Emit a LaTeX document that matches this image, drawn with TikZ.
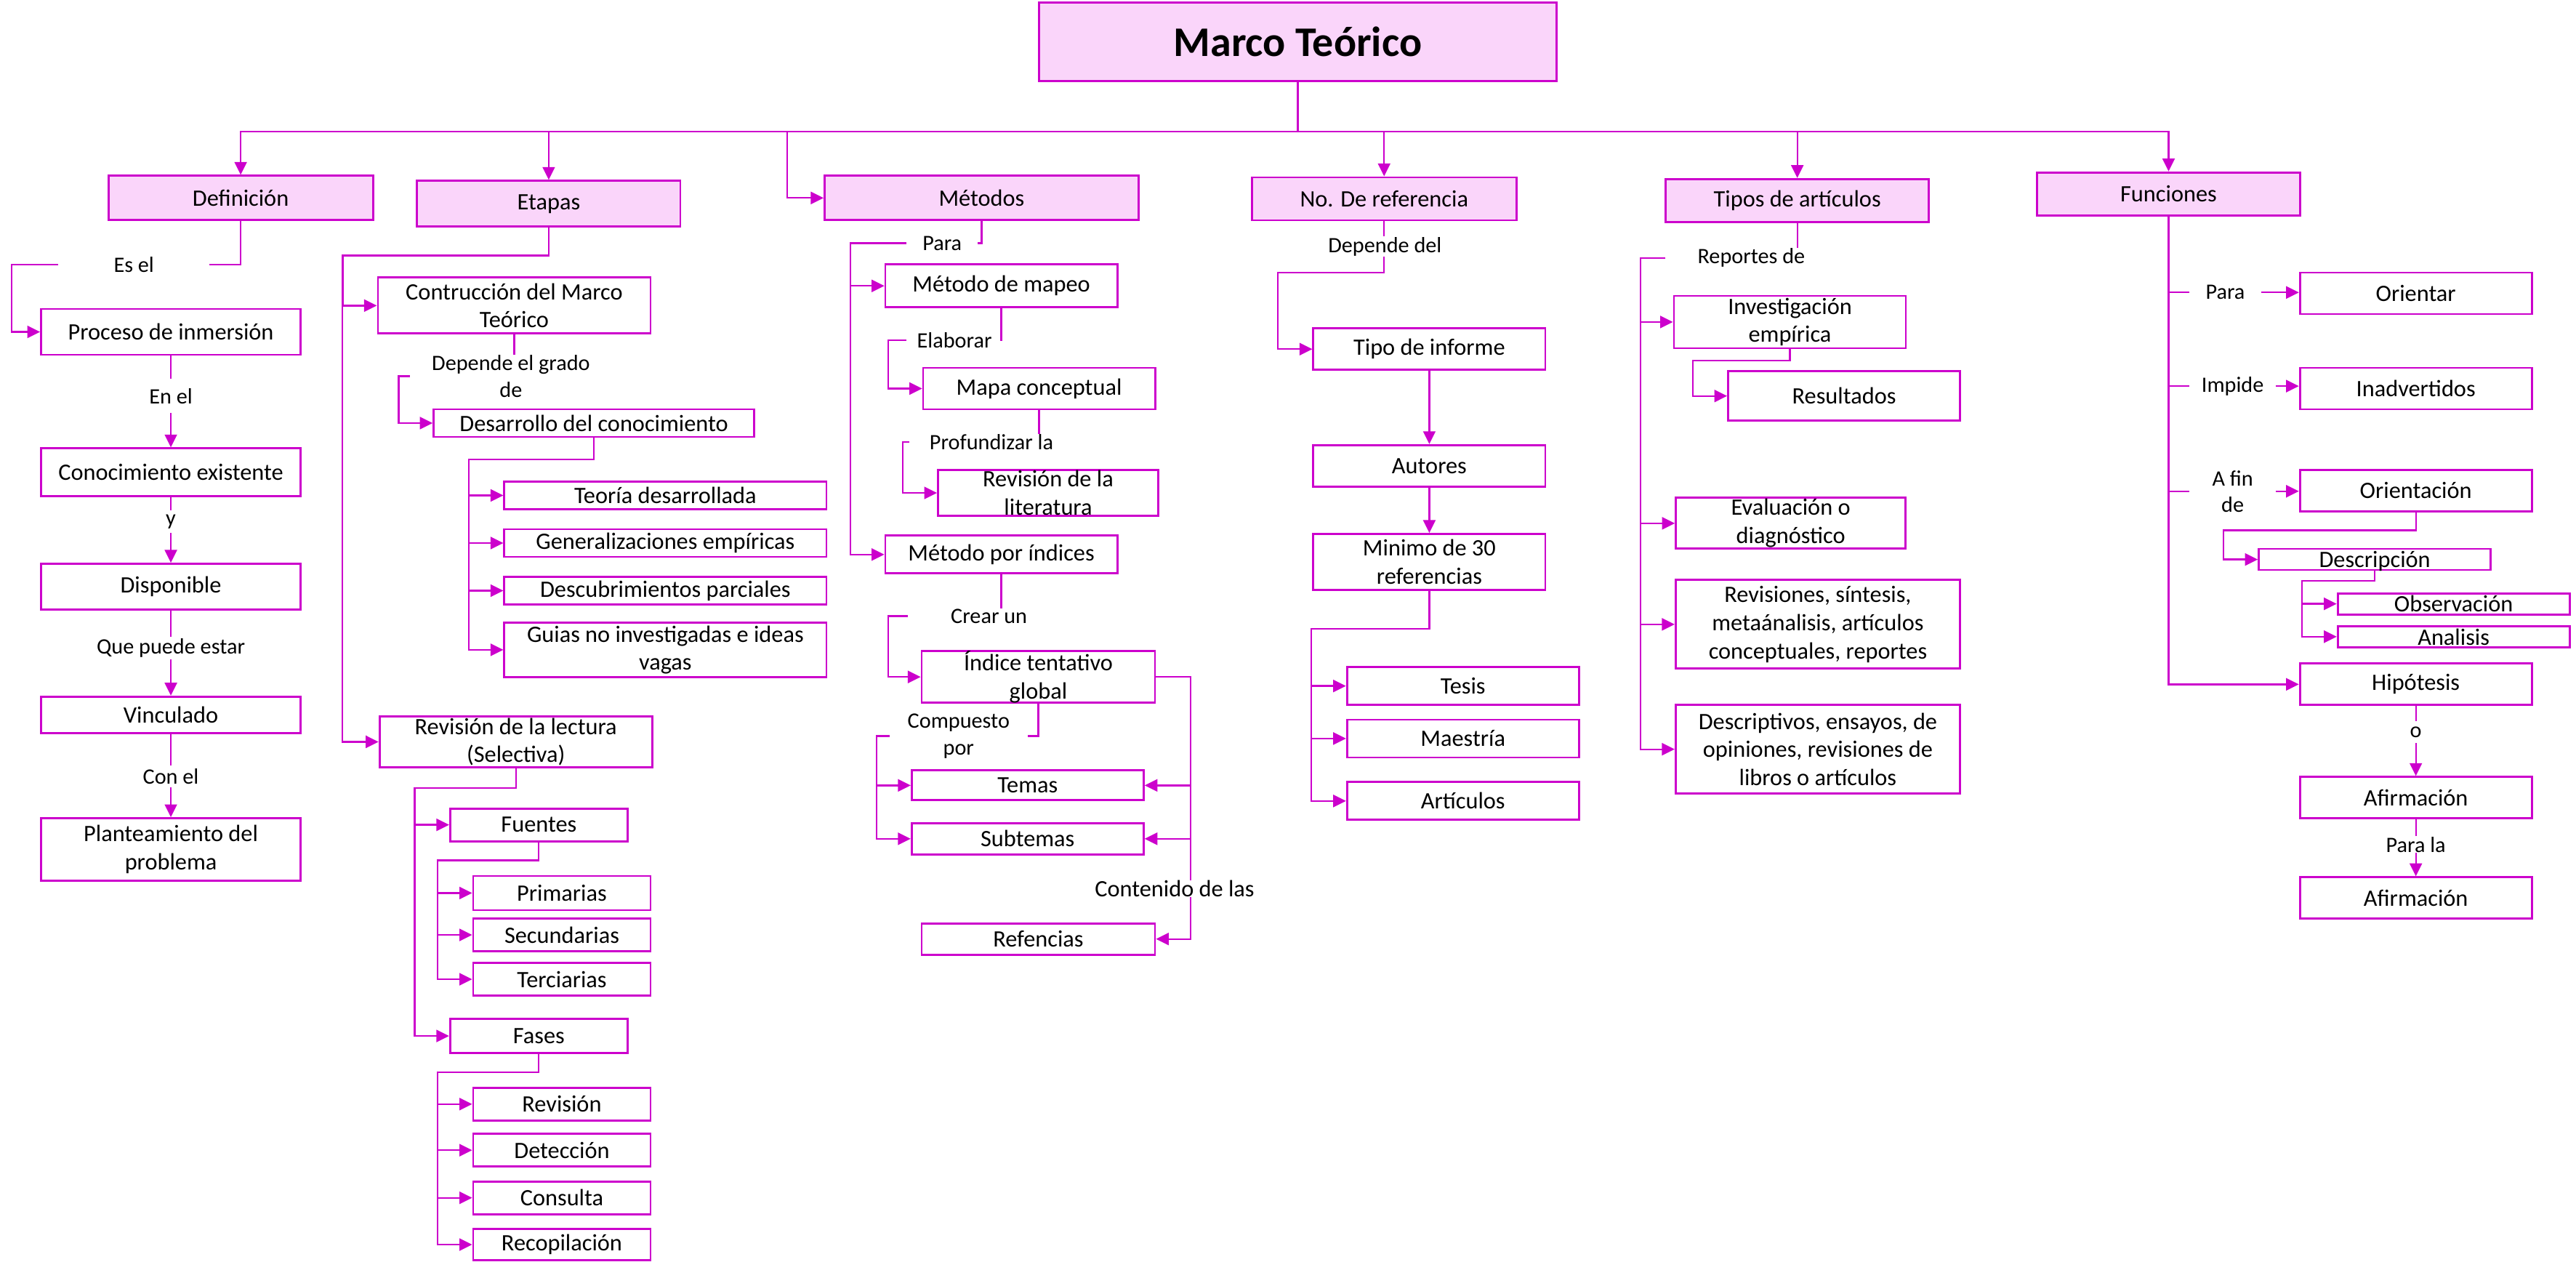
\documentclass[tikz,border=0pt]{standalone}
\usepackage{fontspec}
\setmainfont{Carlito}
\usepackage{tikz}
\usepackage{xcolor}
\usetikzlibrary{arrows.meta}
\definecolor{magline}{RGB}{204,0,204}
\definecolor{pinkfill}{RGB}{250,213,250}
\newcommand{\boxfont}{\fontsize{9.2}{11}\selectfont}
\newcommand{\lblfont}{\fontsize{8.6}{10.3}\selectfont}
\begin{document}
\begin{tikzpicture}[x=0.226mm,y=-0.226mm,
  headbox/.style={draw=magline,line width=0.8pt,fill=pinkfill,inner sep=0pt,align=center,font=\boxfont},
  leafbox/.style={draw=magline,line width=0.8pt,fill=white,inner sep=0pt,align=center,font=\boxfont},
  flatbox/.style={text height=6.4pt,text depth=0pt},
  linklabel/.style={inner sep=0pt,align=center,font=\lblfont},
  wire/.style={draw=magline,line width=0.65pt},
  wirearrow/.style={wire,-{Triangle[length=5pt,width=4.8pt]}}]
\useasboundingbox (0,0) rectangle (1568,768);
\node[headbox,minimum width=71.2mm,minimum height=10.8mm,font=\fontsize{16.5}{20}\selectfont\bfseries] (marco) at (790,25.5) {Marco Teórico};
\node[headbox,minimum width=36.4mm,minimum height=6.1mm] (defin) at (146.5,120.5) {Definición};
\node[headbox,minimum width=36.2mm,minimum height=6.3mm] (etapas) at (334,124) {Etapas};
\node[headbox,minimum width=43.2mm,minimum height=6.1mm] (metodos) at (597.5,120.5) {Métodos};
\node[headbox,minimum width=36.4mm,minimum height=5.9mm] (noref) at (842.5,121) {No. De referencia};
\node[headbox,minimum width=36.2mm,minimum height=5.9mm] (tipos) at (1094,122) {Tipos de artículos};
\node[headbox,minimum width=36.2mm,minimum height=5.9mm] (funciones) at (1320,118) {Funciones};
\draw[wirearrow] (marco.south) -- ++(0,30) -| (defin.north);
\draw[wirearrow] (marco.south) -- ++(0,30) -| (etapas.north);
\draw[wirearrow] (marco.south) -- ++(0,30) -| ([xshift=-5mm]metodos.west) -- (metodos.west);
\draw[wirearrow] (marco.south) -- ++(0,30) -| (noref.north);
\draw[wirearrow] (marco.south) -- ++(0,30) -| (tipos.north);
\draw[wirearrow] (marco.south) -- ++(0,30) -| (funciones.north);
\node[linklabel,minimum width=20.6mm] (esel) at (81.5,161) {Es el};
\node[leafbox,minimum width=35.7mm,minimum height=6.3mm] (proceso) at (104,202) {Proceso de inmersión};
\node[linklabel,minimum height=4.5mm] (enel) at (104,241) {En el};
\node[leafbox,minimum width=35.7mm,minimum height=6.6mm] (conoc) at (104,287.5) {Conocimiento existente};
\node[linklabel,minimum height=2.9mm] (ylbl) at (104,317.5) {y};
\node[leafbox,minimum width=35.7mm,minimum height=6.3mm] (dispon) at (104,357) {Disponible};
\node[linklabel,minimum height=2.9mm] (quepuede) at (104,394.5) {Que puede estar};
\node[leafbox,minimum width=35.7mm,minimum height=5mm] (vincul) at (104,435) {Vinculado};
\node[linklabel,minimum height=2.9mm] (conel) at (104,472.5) {Con el};
\node[leafbox,minimum width=35.7mm,minimum height=8.6mm] (plantea) at (104,517) {Planteamiento del\\problema};
\draw[wire] (defin.south) |- (esel.east);
\draw[wirearrow] (esel.west) -- ++(-28.5,0) |- (proceso.west);
\draw[wire] (proceso.south) -- (enel.north);
\draw[wirearrow] (enel.south) -- (conoc.north);
\draw[wire] (conoc.south) -- (ylbl.north);
\draw[wirearrow] (ylbl.south) -- (dispon.north);
\draw[wire] (dispon.south) -- (quepuede.north);
\draw[wirearrow] (quepuede.south) -- (vincul.north);
\draw[wire] (vincul.south) -- (conel.north);
\draw[wirearrow] (conel.south) -- (plantea.north);
\node[leafbox,minimum width=37.5mm,minimum height=7.7mm] (contruc) at (313,186) {Contrucción del Marco\\Teórico};
\node[linklabel,minimum width=27.6mm] (depende) at (311,229) {Depende el grado\\de};
\node[leafbox,minimum width=44.1mm,minimum height=3.8mm] (desarr) at (361.5,257.5) {Desarrollo del conocimiento};
\node[leafbox,minimum width=44.3mm,minimum height=3.8mm] (teoria) at (405,301.5) {Teoría desarrollada};
\node[leafbox,minimum width=44.3mm,minimum height=3.8mm] (general) at (405,330.5) {Generalizaciones empíricas};
\node[leafbox,minimum width=44.3mm,minimum height=3.8mm] (descub) at (405,359.5) {Descubrimientos parciales};
\node[leafbox,minimum width=44.3mm,minimum height=7.5mm] (guias) at (405,395.5) {Guias no investigadas e ideas\\vagas};
\node[leafbox,minimum width=37.5mm,minimum height=7mm] (revlect) at (314,451.5) {Revisión de la lectura\\(Selectiva)};
\node[leafbox,minimum width=24.4mm,minimum height=4.5mm] (fuentes) at (328,502) {Fuentes};
\node[leafbox,minimum width=24.4mm,minimum height=4.7mm] (primarias) at (342,543.5) {Primarias};
\node[leafbox,minimum width=24.4mm,minimum height=4.5mm] (secund) at (342,569) {Secundarias};
\node[leafbox,minimum width=24.4mm,minimum height=4.5mm] (terciar) at (342,596) {Terciarias};
\node[leafbox,minimum width=24.4mm,minimum height=4.7mm] (fases) at (328,630.5) {Fases};
\node[leafbox,minimum width=24.4mm,minimum height=4.5mm] (revision) at (342,672) {Revisión};
\node[leafbox,minimum width=24.4mm,minimum height=4.5mm] (deteccion) at (342,700) {Detección};
\node[leafbox,minimum width=24.4mm,minimum height=4.5mm] (consulta) at (342,729) {Consulta};
\node[leafbox,minimum width=24.4mm,minimum height=4.3mm] (recopil) at (342,757.5) {Recopilación};
\draw[wirearrow] (etapas.south) -- ++(0,17) -| ([xshift=-4.7mm]contruc.west) -- (contruc.west);
\draw[wirearrow] (etapas.south) -- ++(0,17) -| ([xshift=-5mm]revlect.west) -- (revlect.west);
\draw[wire] (contruc.south) -- (contruc.south |- depende.north);
\draw[wirearrow] (depende.west) -- ++(-7,0) |- (desarr.west);
\draw[wirearrow] (desarr.south) -- ++(0,13) -| ([xshift=-4.75mm]teoria.west) -- (teoria.west);
\draw[wirearrow] (desarr.south) -- ++(0,13) -| ([xshift=-4.75mm]general.west) -- (general.west);
\draw[wirearrow] (desarr.south) -- ++(0,13) -| ([xshift=-4.75mm]descub.west) -- (descub.west);
\draw[wirearrow] (desarr.south) -- ++(0,13) -| ([xshift=-4.75mm]guias.west) -- (guias.west);
\draw[wirearrow] (revlect.south) -- ++(0,12) -| ([xshift=-4.75mm]fuentes.west) -- (fuentes.west);
\draw[wirearrow] (revlect.south) -- ++(0,12) -| ([xshift=-4.75mm]fases.west) -- (fases.west);
\draw[wirearrow] (fuentes.south) -- ++(0,11) -| ([xshift=-4.75mm]primarias.west) -- (primarias.west);
\draw[wirearrow] (fuentes.south) -- ++(0,11) -| ([xshift=-4.75mm]secund.west) -- (secund.west);
\draw[wirearrow] (fuentes.south) -- ++(0,11) -| ([xshift=-4.75mm]terciar.west) -- (terciar.west);
\draw[wirearrow] (fases.south) -- ++(0,11) -| ([xshift=-4.75mm]revision.west) -- (revision.west);
\draw[wirearrow] (fases.south) -- ++(0,11) -| ([xshift=-4.75mm]deteccion.west) -- (deteccion.west);
\draw[wirearrow] (fases.south) -- ++(0,11) -| ([xshift=-4.75mm]consulta.west) -- (consulta.west);
\draw[wirearrow] (fases.south) -- ++(0,11) -| ([xshift=-4.75mm]recopil.west) -- (recopil.west);
\node[linklabel,minimum width=9.7mm] (para1) at (573.5,148) {Para};
\node[leafbox,minimum width=31.9mm,minimum height=5.9mm] (mapeo) at (609.5,174) {Método de mapeo};
\node[linklabel,minimum width=13.1mm] (elaborar) at (581,207) {Elaborar};
\node[leafbox,minimum width=31.9mm,minimum height=5.7mm] (mapa) at (632.5,236.5) {Mapa conceptual};
\node[linklabel,minimum width=22.4mm] (profund) at (603.5,269) {Profundizar la};
\node[leafbox,minimum width=30.3mm,minimum height=6.3mm] (revlit) at (638,300) {Revisión de la\\literatura};
\node[leafbox,minimum width=31.9mm,minimum height=5.2mm] (indices) at (609.5,337.5) {Método por índices};
\node[linklabel,minimum width=22.1mm] (crear) at (602,375) {Crear un};
\node[leafbox,minimum width=32.1mm,minimum height=6.8mm] (indice) at (632,412) {Índice tentativo\\global};
\node[linklabel,minimum width=18.8mm] (compuesto) at (583.5,448) {Compuesto\\por};
\node[leafbox,minimum width=31.9mm,minimum height=4.1mm] (temas) at (625.5,478) {Temas};
\node[leafbox,minimum width=31.9mm,minimum height=4.3mm] (subtemas) at (625.5,510.5) {Subtemas};
\node[leafbox,minimum width=32.1mm,minimum height=4.3mm] (refenc) at (632,571.5) {Refencias};
\draw[wire] (metodos.south) |- (para1.east);
\draw[wirearrow] (para1.west) -- ++(-34,0) |- (mapeo.west);
\draw[wirearrow] (para1.west) -- ++(-34,0) |- (indices.west);
\draw[wire] (mapeo.south) |- (elaborar.east);
\draw[wirearrow] (elaborar.west) -- ++(-11,0) |- (mapa.west);
\draw[wire] (mapa.south) -- (mapa.south |- profund.north);
\draw[wirearrow] (profund.west) -- ++(-4,0) |- (revlit.west);
\draw[wire] (indices.south) -- (indices.south |- crear.north);
\draw[wirearrow] (crear.west) -- ++(-12,0) |- (indice.west);
\draw[wire] (indice.south) |- (compuesto.east);
\draw[wirearrow] (compuesto.west) -- ++(-8,0) |- (temas.west);
\draw[wirearrow] (compuesto.west) -- ++(-8,0) |- (subtemas.west);
\draw[wirearrow] (indice.east) -- ++(21,0) |- (temas.east);
\draw[wirearrow] (indice.east) -- ++(21,0) |- (subtemas.east);
\draw[wirearrow] (indice.east) -- ++(21,0) |- (refenc.east);
\node[linklabel,fill=white,font=\boxfont] (contenido) at (715,541) {Contenido de las};
\node[linklabel] (depdel) at (843,150) {Depende del};
\node[leafbox,minimum width=31.9mm,minimum height=5.7mm] (tipoinf) at (870,212.5) {Tipo de informe};
\node[leafbox,minimum width=31.9mm,minimum height=5.7mm] (autores) at (870,283.5) {Autores};
\node[leafbox,minimum width=31.9mm,minimum height=7.7mm] (minimo) at (870,342) {Minimo de 30\\referencias};
\node[leafbox,minimum width=31.9mm,minimum height=5.2mm] (tesis) at (890.5,417.5) {Tesis};
\node[leafbox,minimum width=31.9mm,minimum height=5.2mm] (maestria) at (890.5,449.5) {Maestría};
\node[leafbox,minimum width=31.9mm,minimum height=5.2mm] (articulos) at (890.5,487.5) {Artículos};
\draw[wire] (noref.south) -- (noref.south |- depdel.north);
\draw[wirearrow] (noref.south |- depdel.south) -- ++(0,10) -| ([xshift=-4.75mm]tipoinf.west) -- (tipoinf.west);
\draw[wirearrow] (tipoinf.south) -- (autores.north);
\draw[wirearrow] (autores.south) -- (minimo.north);
\draw[wirearrow] (minimo.south) -- ++(0,23) -| ([xshift=-4.75mm]tesis.west) -- (tesis.west);
\draw[wirearrow] (minimo.south) -- ++(0,23) -| ([xshift=-4.75mm]maestria.west) -- (maestria.west);
\draw[wirearrow] (minimo.south) -- ++(0,23) -| ([xshift=-4.75mm]articulos.west) -- (articulos.west);
\node[linklabel,minimum width=23.5mm] (reportes) at (1066,157) {Reportes de};
\node[leafbox,minimum width=31.9mm,minimum height=7.2mm] (investig) at (1089.5,196) {Investigación\\empírica};
\node[leafbox,minimum width=31.9mm,minimum height=6.8mm] (resultados) at (1122.5,241) {Resultados};
\node[leafbox,minimum width=31.6mm,minimum height=7mm] (evalua) at (1090,318.5) {Evaluación o\\diagnóstico};
\node[leafbox,minimum width=39.1mm,minimum height=12.2mm] (revis) at (1106.5,380) {Revisiones, síntesis,\\metaánalisis, artículos\\conceptuales, reportes};
\node[leafbox,minimum width=39.1mm,minimum height=12.2mm] (descrip) at (1106.5,456) {Descriptivos, ensayos, de\\opiniones, revisiones de\\libros o artículos};
\draw[wire] (tipos.south) -- (tipos.south |- reportes.north);
\draw[wirearrow] (reportes.west) -- ++(-15,0) |- (investig.west);
\draw[wirearrow] (reportes.west) -- ++(-15,0) |- (evalua.west);
\draw[wirearrow] (reportes.west) -- ++(-15,0) |- (revis.west);
\draw[wirearrow] (reportes.west) -- ++(-15,0) |- (descrip.west);
\draw[wirearrow] (investig.south) -- ++(0,7) -| ([xshift=-4.75mm]resultados.west) -- (resultados.west);
\node[linklabel,minimum width=9.7mm] (para2) at (1354.5,178) {Para};
\node[linklabel,minimum width=11.8mm] (impide) at (1359,235) {Impide};
\node[linklabel,minimum width=11.8mm] (afin) at (1359,299) {A fin\\de};
\node[leafbox,minimum width=31.9mm,minimum height=5.7mm] (orientar) at (1470.5,178.5) {Orientar};
\node[leafbox,minimum width=31.9mm,minimum height=5.7mm] (inadvert) at (1470.5,236.5) {Inadvertidos};
\node[leafbox,minimum width=31.9mm,minimum height=5.7mm] (orientacion) at (1470.5,298.5) {Orientación};
\node[leafbox,flatbox,minimum width=31.9mm,minimum height=2.9mm] (descripcion) at (1445.5,340.5) {Descripción};
\node[leafbox,flatbox,minimum width=31.9mm,minimum height=2.9mm] (observ) at (1493.5,367.5) {Observación};
\node[leafbox,flatbox,minimum width=31.9mm,minimum height=2.9mm] (analisis) at (1493.5,387.5) {Analisis};
\node[leafbox,minimum width=31.9mm,minimum height=5.7mm] (hipotesis) at (1470.5,416.5) {Hipótesis};
\node[linklabel,minimum height=2.9mm] (olbl) at (1470.5,445.5) {o};
\node[leafbox,minimum width=31.9mm,minimum height=5.7mm] (afirm1) at (1470.5,485.5) {Afirmación};
\node[linklabel] (parala) at (1470.5,514) {Para la};
\node[leafbox,minimum width=31.9mm,minimum height=5.7mm] (afirm2) at (1470.5,546.5) {Afirmación};
\draw[wirearrow] (funciones.south) |- (hipotesis.west);
\draw[wire] (para2.west) -- (para2.west -| funciones.south);
\draw[wirearrow] (para2.east) -- (para2.east -| orientar.west);
\draw[wire] (impide.west) -- (impide.west -| funciones.south);
\draw[wirearrow] (impide.east) -- (impide.east -| inadvert.west);
\draw[wire] (afin.west) -- (afin.west -| funciones.south);
\draw[wirearrow] (afin.east) -- (afin.east -| orientacion.west);
\draw[wirearrow] (orientacion.south) -- ++(0,11) -| ([xshift=-4.75mm]descripcion.west) -- (descripcion.west);
\draw[wirearrow] (descripcion.south) -- ++(0,6) -| ([xshift=-4.75mm]observ.west) -- (observ.west);
\draw[wirearrow] (descripcion.south) -- ++(0,6) -| ([xshift=-4.75mm]analisis.west) -- (analisis.west);
\draw[wire] (hipotesis.south) -- (olbl.north);
\draw[wirearrow] (olbl.south) -- (afirm1.north);
\draw[wire] (afirm1.south) -- (parala.north);
\draw[wirearrow] (parala.south) -- (afirm2.north);
\end{tikzpicture}
\end{document}
